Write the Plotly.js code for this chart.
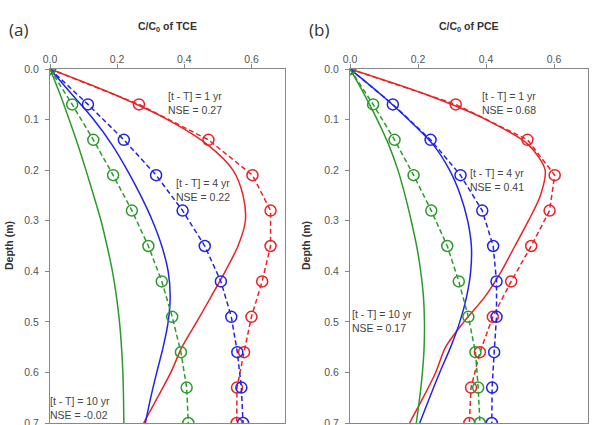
<!DOCTYPE html>
<html>
<head>
<meta charset="utf-8">
<script src="https://cdn.plot.ly/plotly-3.0.1.min.js"></script>
<style>
  html, body { margin: 0; padding: 0; background: #fff; }
  #chart { width: 592px; height: 425px; }
</style>
</head>
<body>
<div id="chart"></div>
<script>
// Sampling depths (m) of the measured profiles and of the model curves
const sampleDepth = [0, 0.07, 0.14, 0.21, 0.28, 0.35, 0.42, 0.49, 0.56, 0.63, 0.70];
const modelDepth  = [0, 0.05, 0.10, 0.15, 0.20, 0.25, 0.30, 0.35, 0.40, 0.45, 0.50, 0.55, 0.60, 0.65, 0.70];

// TCE, measured C/C0
const tceObs1  = [0, 0.265, 0.472, 0.603, 0.657, 0.657, 0.632, 0.600, 0.578, 0.557, 0.556];
const tceObs4  = [0, 0.113, 0.220, 0.316, 0.395, 0.461, 0.509, 0.540, 0.558, 0.570, 0.575];
const tceObs10 = [0, 0.066, 0.129, 0.188, 0.244, 0.293, 0.333, 0.364, 0.390, 0.407, 0.412];
// TCE, modelled C/C0
const tceMod1  = [0, 0.190, 0.350, 0.470, 0.545, 0.575, 0.582, 0.560, 0.522, 0.480, 0.437, 0.393, 0.360, 0.320, 0.279];
const tceMod4  = [0, 0.065, 0.130, 0.185, 0.230, 0.270, 0.305, 0.333, 0.352, 0.358, 0.352, 0.337, 0.318, 0.300, 0.284];
const tceMod10 = [0, 0.030, 0.057, 0.083, 0.107, 0.130, 0.152, 0.170, 0.186, 0.198, 0.207, 0.213, 0.217, 0.219, 0.220];

// PCE, measured C/C0
const pceObs1  = [0, 0.311, 0.522, 0.602, 0.587, 0.533, 0.474, 0.420, 0.382, 0.356, 0.351];
const pceObs4  = [0, 0.126, 0.237, 0.325, 0.389, 0.421, 0.431, 0.431, 0.424, 0.418, 0.417];
const pceObs10 = [0, 0.068, 0.131, 0.187, 0.239, 0.286, 0.320, 0.348, 0.369, 0.377, 0.382];
// PCE, modelled C/C0
const pceMod1  = [0, 0.222, 0.400, 0.525, 0.574, 0.560, 0.525, 0.485, 0.445, 0.397, 0.335, 0.281, 0.252, 0.215, 0.175];
const pceMod4  = [0, 0.090, 0.172, 0.245, 0.293, 0.325, 0.346, 0.357, 0.355, 0.343, 0.323, 0.296, 0.264, 0.234, 0.205];
const pceMod10 = [0, 0.042, 0.080, 0.114, 0.141, 0.162, 0.180, 0.196, 0.208, 0.216, 0.219, 0.218, 0.213, 0.205, 0.195];

// Axis ticks
const concTicks  = [0, 0.2, 0.4, 0.6];
const depthTicks = [0, 0.1, 0.2, 0.3, 0.4, 0.5, 0.6, 0.7];

const RED = '#ea2226', BLUE = '#2222ea', GREEN = '#2c9a2c';
const W = 592, H = 425;
const px = v => v / W;
const py = v => 1 - v / H;

function model(x, y, color, xa, ya) {
  return { x: x, y: y, xaxis: xa, yaxis: ya, mode: 'lines', type: 'scatter',
           line: { color: color, width: 1.5, shape: 'spline', smoothing: 0.8 },
           hoverinfo: 'skip', showlegend: false };
}
function observed(x, y, color, xa, ya) {
  return { x: x, y: y, xaxis: xa, yaxis: ya, mode: 'lines+markers', type: 'scatter',
           line: { color: color, width: 1.5, dash: '5px,3px' },
           marker: { symbol: 'circle', size: 11, color: 'rgba(255,255,255,0)',
                     line: { color: color, width: 1.5 } },
           hoverinfo: 'skip', showlegend: false };
}

const data = [
  model(tceMod1, modelDepth, RED, 'x', 'y'),
  model(tceMod4, modelDepth, BLUE, 'x', 'y'),
  model(tceMod10, modelDepth, GREEN, 'x', 'y'),
  observed(tceObs1, sampleDepth, RED, 'x', 'y'),
  observed(tceObs4, sampleDepth, BLUE, 'x', 'y'),
  observed(tceObs10, sampleDepth, GREEN, 'x', 'y'),
  model(pceMod1, modelDepth, RED, 'x2', 'y2'),
  model(pceMod4, modelDepth, BLUE, 'x2', 'y2'),
  model(pceMod10, modelDepth, GREEN, 'x2', 'y2'),
  observed(pceObs1, sampleDepth, RED, 'x2', 'y2'),
  observed(pceObs4, sampleDepth, BLUE, 'x2', 'y2'),
  observed(pceObs10, sampleDepth, GREEN, 'x2', 'y2')
];

const tickFont = { family: 'Liberation Sans, Arial, sans-serif', size: 10.5, color: '#555' };
function xAxis(domain, anchor) {
  return { domain: domain, anchor: anchor, side: 'top', range: [0, 0.7],
           tickvals: concTicks, tickformat: '.1f', ticks: 'outside', ticklen: 4,
           tickcolor: '#888', tickwidth: 1, ticklabelstandoff: -3,
           showline: true, mirror: true, linecolor: '#888', linewidth: 1,
           showgrid: false, zeroline: false, tickfont: tickFont, fixedrange: true };
}
function yAxis(domain, anchor) {
  return { domain: domain, anchor: anchor, range: [0.7, 0],
           tickvals: depthTicks, tickformat: '.1f', ticks: 'outside', ticklen: 4,
           tickcolor: '#888', tickwidth: 1, ticklabelstandoff: 4, ticklabeloverflow: 'allow',
           showline: true, mirror: true, linecolor: '#888', linewidth: 1,
           showgrid: false, zeroline: false, tickfont: tickFont, fixedrange: true };
}

const yDom = [1 - 423 / H, 1 - 69 / H];
const noteFont = { family: 'Liberation Sans, Arial, sans-serif', size: 10.5, color: '#444' };
function note(x, y, text) {
  return { xref: 'paper', yref: 'paper', x: px(x), y: py(y), xanchor: 'left', yanchor: 'top',
           align: 'left', showarrow: false, text: text, font: noteFont, borderpad: 0 };
}
const annotations = [
  { xref: 'paper', yref: 'paper', x: px(7), y: py(29), xanchor: 'left', yanchor: 'middle',
    showarrow: false, text: '(a)', font: { family: 'Open Sans, sans-serif', size: 17, color: '#333' } },
  { xref: 'paper', yref: 'paper', x: px(307), y: py(29), xanchor: 'left', yanchor: 'middle',
    showarrow: false, text: '(b)', font: { family: 'Open Sans, sans-serif', size: 17, color: '#333' } },
  { xref: 'paper', yref: 'paper', x: px(167.5), y: py(27), xanchor: 'center', yanchor: 'middle',
    showarrow: false, text: '<b>C/C<sub>0</sub> of TCE</b>',
    font: { family: 'Liberation Sans, Arial, sans-serif', size: 10.5, color: '#333' } },
  { xref: 'paper', yref: 'paper', x: px(469), y: py(27), xanchor: 'center', yanchor: 'middle',
    showarrow: false, text: '<b>C/C<sub>0</sub> of PCE</b>',
    font: { family: 'Liberation Sans, Arial, sans-serif', size: 10.5, color: '#333' } },
  { xref: 'paper', yref: 'paper', x: px(9), y: py(246), xanchor: 'center', yanchor: 'middle',
    textangle: -90, showarrow: false, text: '<b>Depth (m)</b>',
    font: { family: 'Liberation Sans, Arial, sans-serif', size: 10.5, color: '#333' } },
  { xref: 'paper', yref: 'paper', x: px(306), y: py(246), xanchor: 'center', yanchor: 'middle',
    textangle: -90, showarrow: false, text: '<b>Depth (m)</b>',
    font: { family: 'Liberation Sans, Arial, sans-serif', size: 10.5, color: '#333' } },
  note(167, 89, '[t - T] = 1 yr<br>NSE = 0.27'),
  note(175, 176, '[t - T] = 4 yr<br>NSE = 0.22'),
  note(49, 394, '[t - T] = 10 yr<br>NSE = -0.02'),
  note(481, 89, '[t - T] = 1 yr<br>NSE = 0.68'),
  note(469, 166, '[t - T] = 4 yr<br>NSE = 0.41'),
  note(351, 307, '[t - T] = 10 yr<br>NSE = 0.17')
];

const layout = {
  width: W, height: H,
  margin: { l: 0, r: 0, t: 0, b: 0 },
  paper_bgcolor: '#fff', plot_bgcolor: '#fff',
  showlegend: false,
  xaxis: xAxis([50 / W, 285 / W], 'y'),
  yaxis: yAxis(yDom, 'x'),
  xaxis2: xAxis([350 / W, 588 / W], 'y2'),
  yaxis2: yAxis(yDom, 'x2'),
  annotations: annotations
};

Plotly.newPlot('chart', data, layout, { staticPlot: true, displayModeBar: false });
</script>
</body>
</html>
